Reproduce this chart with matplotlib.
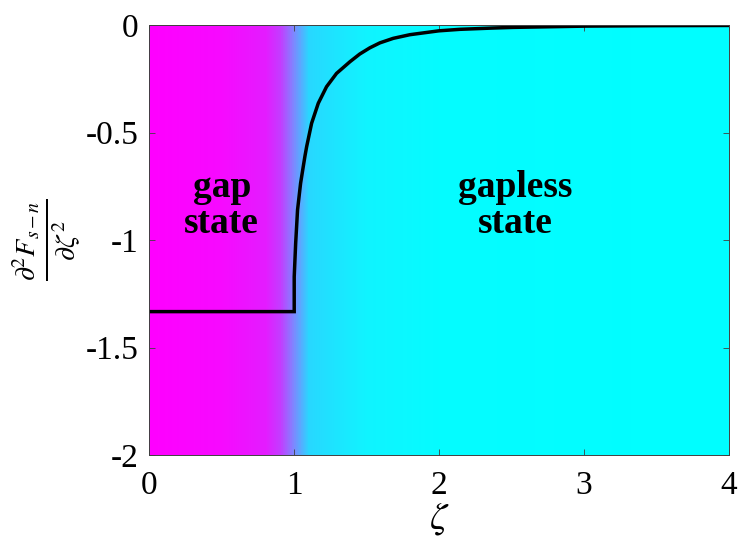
import matplotlib
matplotlib.use('Agg')
import matplotlib.pyplot as plt
import numpy as np
from matplotlib.colors import LinearSegmentedColormap

# curve (zeta, d2F/dzeta2)
zeta = [0.0, 1.0, 1.0, 1.0, 1.010, 1.023, 1.044, 1.062, 1.074, 1.086, 1.12, 1.166,
        1.223, 1.292, 1.384, 1.452, 1.522, 1.591, 1.683, 1.798, 1.998, 2.143, 2.372,
        2.51, 3.017, 3.5, 4.0]
d2F = [-1.333, -1.333, -1.25, -1.171, -1.015, -0.860, -0.736, -0.66, -0.61, -0.565, -0.457, -0.364,
       -0.287, -0.225, -0.171, -0.135, -0.106, -0.083, -0.062, -0.045, -0.027, -0.020, -0.014,
       -0.011, -0.005, -0.003, -0.002]

# background colour stops along zeta
bg_pos = [0.0, 0.5, 0.8, 0.9, 1.0, 1.1, 1.5, 2.0, 4.0]
bg_col = ['#ff00ff', '#f70aff', '#e41cff', '#c43cff', '#7a8cff', '#28d8ff', '#10f4ff', '#05fcff', '#00ffff']

xticks = [0, 1, 2, 3, 4]
yticks = [0, -0.5, -1, -1.5, -2]
ytick_labels = ['0', '-0.5', '-1', '-1.5', '-2']

plt.rcParams['font.family'] = ['Liberation Serif', 'DejaVu Serif']
plt.rcParams['mathtext.fontset'] = 'stix'
plt.rcParams['axes.unicode_minus'] = False

fig = plt.figure(figsize=(7.39, 5.5), dpi=100)
ax = fig.add_axes([0.202, 0.1727, 0.7845, 0.7818])

cmap = LinearSegmentedColormap.from_list('gap', list(zip(np.array(bg_pos) / 4.0, bg_col)))
xs = np.linspace(0, 4, 800)
ax.imshow(xs[None, :], extent=[0, 4, -2, 0], aspect='auto', cmap=cmap, vmin=0, vmax=4, origin='lower')

ax.plot(zeta, d2F, color='black', lw=2.5, solid_joinstyle='miter')

# region labels, one text per line
ax.text(0.5, -0.80, 'gap', ha='center', va='baseline', fontsize=27, fontweight='bold')
ax.text(0.5, -0.967, 'state', ha='center', va='baseline', fontsize=27, fontweight='bold')
ax.text(2.527, -0.80, 'gapless', ha='center', va='baseline', fontsize=27, fontweight='bold')
ax.text(2.527, -0.967, 'state', ha='center', va='baseline', fontsize=27, fontweight='bold')

ax.set_xlim(0, 4)
ax.set_ylim(-2, 0)
ax.set_xticks(xticks)
ax.set_yticks(yticks)
ax.set_yticklabels(ytick_labels)
ax.tick_params(direction='in', length=4, width=0.6, color='#404040', labelsize=24, top=True, right=True)
ax.tick_params(axis='x', pad=11)
ax.tick_params(axis='y', pad=8)
for s in ax.spines.values():
    s.set_color('#404040')
    s.set_linewidth(0.7)
ax.set_xlabel(r'$\zeta$', fontsize=28, labelpad=0)
ax.set_ylabel(r'$\frac{\partial^2 F_{s-n}}{\partial \zeta^2}$', fontsize=29, labelpad=2)

plt.savefig('out.png', dpi=100)
